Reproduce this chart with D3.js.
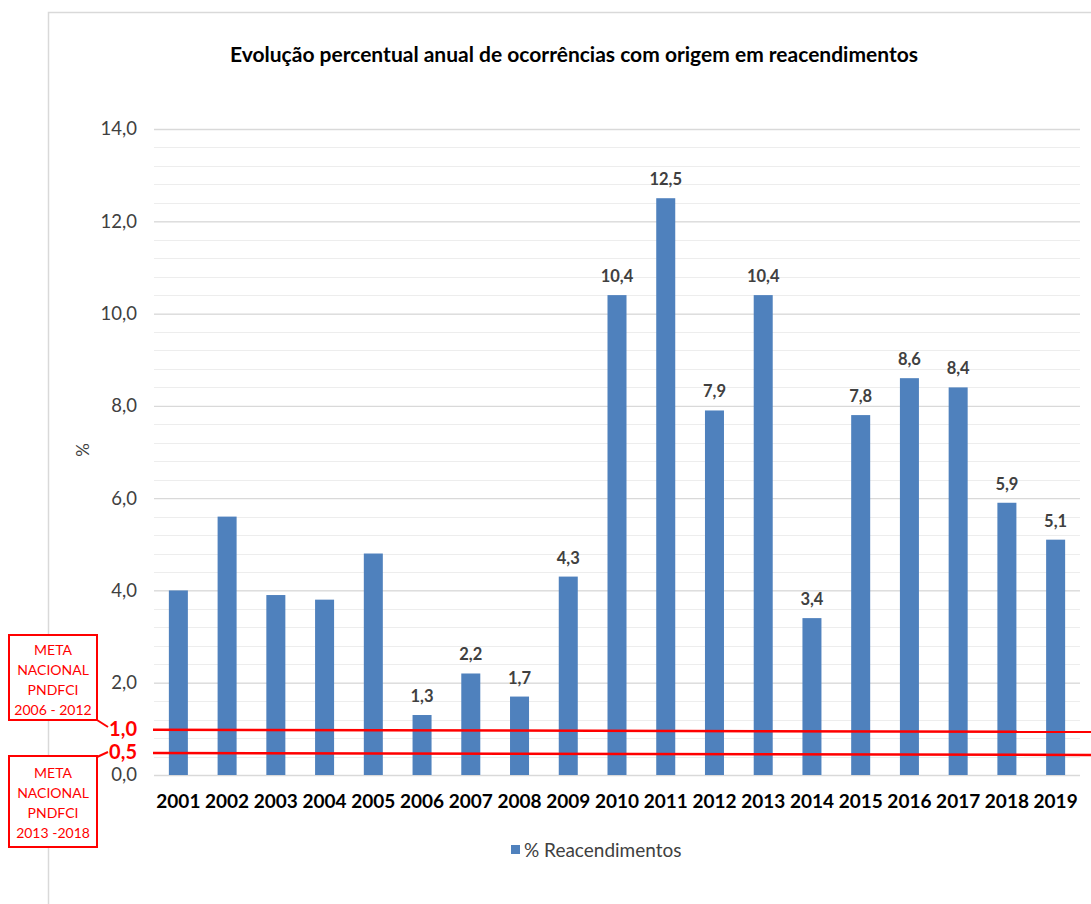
<!DOCTYPE html>
<html>
<head>
<meta charset="utf-8">
<script src="https://cdn.jsdelivr.net/npm/d3@7"></script>
<style>
  html, body { margin: 0; padding: 0; background: #fff; }
  svg { display: block; }
</style>
</head>
<body>
<svg id="chart" width="1091" height="904"></svg>
<script>
// Annual share of fire occurrences caused by rekindling (%)
const years = ["2001","2002","2003","2004","2005","2006","2007","2008","2009","2010",
               "2011","2012","2013","2014","2015","2016","2017","2018","2019"];
const pctRekindle = [4.0, 5.6, 3.9, 3.8, 4.8, 1.3, 2.2, 1.7, 4.3, 10.4,
                     12.5, 7.9, 10.4, 3.4, 7.8, 8.6, 8.4, 5.9, 5.1];
// Years from which the value is printed above the bar
const labelledYears = ["2006","2007","2008","2009","2010","2011","2012","2013","2014",
                       "2015","2016","2017","2018","2019"];
const yTicks = [0, 2, 4, 6, 8, 10, 12, 14];
const minorTicks = d3.range(0, 14.01, 0.4);
// National targets (PNDFCI)
const targets = [
  { value: 1.0, label: "1,0", box: ["META", "NACIONAL", "PNDFCI", "2006 - 2012"] },
  { value: 0.5, label: "0,5", box: ["META", "NACIONAL", "PNDFCI", "2013 -2018"] }
];

const fmt = v => v.toFixed(1).replace(".", ",");
const svg = d3.select("#chart");
const font = "Lato, 'Open Sans', sans-serif";

// chart frame
svg.append("path")
  .attr("d", "M48.5,904 V12.5 H1091")
  .attr("fill", "none").attr("stroke", "#d9d9d9").attr("stroke-width", 1.5);

const plot = { left: 154, right: 1080, top: 129, bottom: 775 };
const x = d3.scaleBand().domain(years).range([plot.left, plot.right]).paddingInner(0.61).paddingOuter(0.305);
const y = d3.scaleLinear().domain([0, 14]).range([plot.bottom, plot.top]);

// minor gridlines
svg.append("g").selectAll("line").data(minorTicks).join("line")
  .attr("x1", plot.left).attr("x2", plot.right)
  .attr("y1", d => Math.round(y(d)) + 0.5).attr("y2", d => Math.round(y(d)) + 0.5)
  .attr("stroke", "#ededed").attr("stroke-width", 1);

// major gridlines + y axis labels
const yAxis = d3.axisLeft(y).tickValues(yTicks).tickFormat(fmt).tickSize(-(plot.right - plot.left)).tickPadding(17);
const gy = svg.append("g").attr("transform", `translate(${plot.left},0)`).call(yAxis);
gy.select(".domain").remove();
gy.selectAll(".tick line").attr("stroke", "#d9d9d9").attr("stroke-width", 1.3);
gy.selectAll(".tick text").attr("fill", "#404040").style("font-family", font).style("font-size", "18.5px");

// y axis title
svg.append("text")
  .attr("transform", `translate(89,450) rotate(-90)`)
  .attr("text-anchor", "middle")
  .style("font-family", font).style("font-size", "17px").attr("fill", "#404040")
  .text("%");

// bars
svg.append("g").selectAll("rect").data(years).join("rect")
  .attr("x", d => x(d))
  .attr("width", x.bandwidth())
  .attr("y", (d, i) => y(pctRekindle[i]))
  .attr("height", (d, i) => y(0) - y(pctRekindle[i]))
  .attr("fill", "#4f81bd");

// value labels
svg.append("g").selectAll("text").data(years.filter(d => labelledYears.includes(d))).join("text")
  .attr("x", d => x(d) + x.bandwidth() / 2)
  .attr("y", d => y(pctRekindle[years.indexOf(d)]) - 13)
  .attr("text-anchor", "middle")
  .style("font-family", font).style("font-size", "16.5px").style("font-weight", "bold")
  .attr("fill", "#404040")
  .text(d => fmt(pctRekindle[years.indexOf(d)]));

// x axis labels
const xAxis = d3.axisBottom(x).tickSize(0).tickPadding(20);
const gx = svg.append("g").attr("transform", `translate(0,${plot.bottom})`).call(xAxis);
gx.select(".domain").remove();
gx.selectAll(".tick text").attr("fill", "#000").style("font-family", font)
  .style("font-size", "19px").style("font-weight", "bold");

// title
svg.append("text")
  .attr("x", 574).attr("y", 62)
  .attr("text-anchor", "middle")
  .style("font-family", font).style("font-size", "21px").style("font-weight", "bold")
  .attr("fill", "#000")
  .text("Evolução percentual anual de ocorrências com origem em reacendimentos");

// legend
svg.append("rect").attr("x", 511).attr("y", 845).attr("width", 9).attr("height", 9).attr("fill", "#4f81bd");
svg.append("text").attr("x", 524).attr("y", 857)
  .style("font-family", font).style("font-size", "19px").attr("fill", "#404040")
  .text("% Reacendimentos");

// national target lines with callouts
const red = "#ff0000";
const tg = svg.append("g");
tg.selectAll("line.target").data(targets).join("line").attr("class", "target")
  .attr("x1", 153).attr("x2", 1091)
  .attr("y1", d => y(d.value) + 1).attr("y2", d => y(d.value) + 3)
  .attr("stroke", red).attr("stroke-width", 2.5);

tg.selectAll("text.tlabel").data(targets).join("text").attr("class", "tlabel")
  .attr("x", 137).attr("y", d => y(d.value) + 7)
  .attr("text-anchor", "end")
  .style("font-family", font).style("font-size", "20px").style("font-weight", "bold")
  .attr("fill", red)
  .text(d => d.label);

const boxes = [
  { t: targets[0], x: 9, y: 635, w: 88, h: 85, textY: 655, conn: [[97, 720], [108, 727]] },
  { t: targets[1], x: 9, y: 756, w: 88, h: 91, textY: 778, conn: [[97, 757], [108, 752]] }
];
boxes.forEach(b => {
  tg.append("rect").attr("x", b.x).attr("y", b.y).attr("width", b.w).attr("height", b.h)
    .attr("fill", "#fff").attr("stroke", red).attr("stroke-width", 2);
  tg.append("path").attr("d", d3.line()(b.conn)).attr("stroke", red).attr("stroke-width", 2).attr("fill", "none");
  tg.append("g").selectAll("text").data(b.t.box).join("text")
    .attr("x", b.x + b.w / 2).attr("y", (d, i) => b.textY + i * 20)
    .attr("text-anchor", "middle")
    .style("font-family", font).style("font-size", "14px")
    .attr("fill", red)
    .text(d => d);
});
</script>
</body>
</html>
